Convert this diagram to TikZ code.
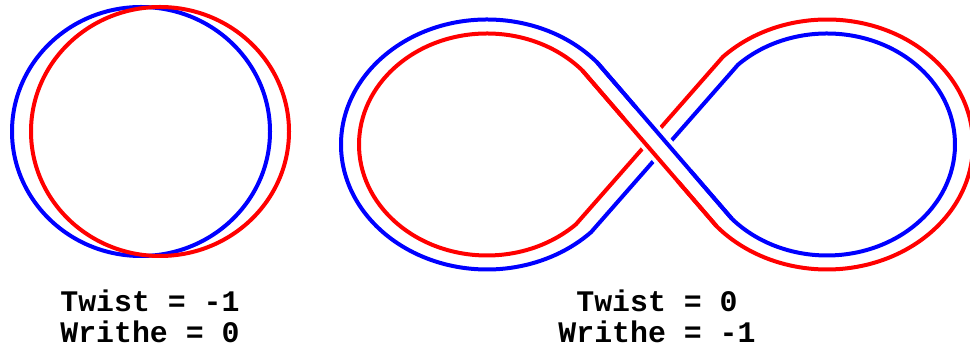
\documentclass[tikz,border=0pt]{standalone}
\usepackage{fontspec}
\newfontfamily\lblfont{Liberation Mono}
\usetikzlibrary{calc}

\begin{document}
\begin{tikzpicture}[x=0.02cm, y=0.02cm,
  strand/.style={line width=0.08cm},
  gap/.style={white, line width=0.56cm},
  lbl/.style={font=\lblfont\bfseries\fontsize{17}{20}\selectfont, anchor=base, inner sep=0pt}]
  \useasboundingbox (0,0) rectangle (970,354);
  \clip (0,0) rectangle (970,354);

  % twisted ribbon
  \draw[strand, blue] (141,222.5) ellipse [x radius=129, y radius=124.5];
  \draw[strand, red] (160,222.5) ellipse [x radius=129, y radius=124.5];

  % figure eight
  \coordinate (L) at (487,209.5);
  \coordinate (R) at (827,209.5);
  \path (L) ++(41:146 and 125) coordinate (bLT);
  \path (R) ++(134:128 and 111) coordinate (bRT);
  \path (R) ++(222:128 and 111) coordinate (bRB);
  \path (L) ++(42:128 and 111) coordinate (rLT);
  \path (R) ++(135.5:146 and 125) coordinate (rRT);
  \path (R) ++(221:146 and 125) coordinate (rRB);

  \draw[strand, blue] (bLT) arc[start angle=41, end angle=315.5, x radius=146, y radius=125]
    -- (bRT) arc[start angle=134, end angle=-138, x radius=128, y radius=111] -- cycle;
  \draw[strand, red] (rLT) arc[start angle=42, end angle=314, x radius=128, y radius=111]
    -- (rRT) arc[start angle=135.5, end angle=-139, x radius=146, y radius=125] -- cycle;

  % over crossing
  \coordinate (oA) at ($(rLT)!0.5!(bLT)$);
  \coordinate (oB) at ($(rRB)!0.5!(bRB)$);
  \draw[gap] ($(oA)!0.3!(oB)$) -- ($(oA)!0.7!(oB)$);
  \draw[strand, red] (rLT) -- (rRB);
  \draw[strand, blue] (bLT) -- (bRB);

  \node[lbl] (twL) at (150,42) {Twist = -1};
  \node[lbl] (wrL) at (150,11) {Writhe = 0};
  \node[lbl] (twR) at (657,42) {Twist = 0};
  \node[lbl] (wrR) at (657,11) {Writhe = -1};
\end{tikzpicture}
\end{document}
